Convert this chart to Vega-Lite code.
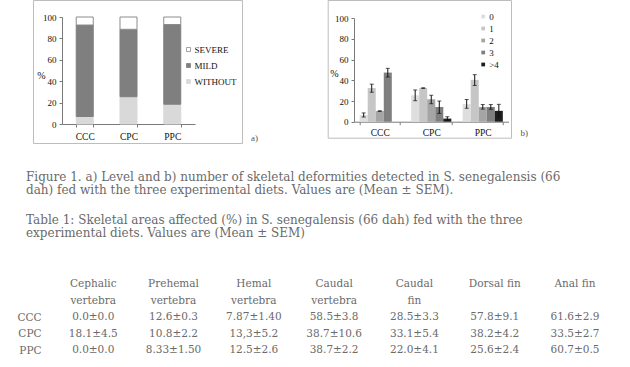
{
  "$schema": "https://vega.github.io/schema/vega-lite/v6.json",
  "background": "white",
  "padding": {"left": 16, "top": -1, "right": 5, "bottom": 2},
  "bounds": "flush",
  "spacing": 275.75,
  "resolve": {"scale": {"x": "independent", "y": "independent", "fill": "independent", "stroke": "independent"}, "legend": {"fill": "independent", "stroke": "independent"}},
  "config": {
    "view": {"stroke": "#bdbdbd", "strokeWidth": 1},
    "font": "Liberation Serif",
    "axis": {"grid": false, "domainColor": "#7a7a7a", "tickColor": "#7a7a7a", "labelColor": "#111111", "labelFont": "Liberation Serif", "titleFont": "Liberation Serif", "labelFontSize": 9, "titleFontSize": 10, "titleFontWeight": "normal", "titleColor": "#111111", "tickSize": 3, "labelOverlap": false},
    "legend": {"labelFont": "Liberation Serif", "labelColor": "#111111", "padding": 0}
  },
  "vconcat": [
    {
      "bounds": "flush",
      "spacing": 85.7,
      "resolve": {"scale": {"x": "independent", "y": "independent", "fill": "independent", "stroke": "independent"}, "legend": {"fill": "independent", "stroke": "independent"}},
      "hconcat": [
        {
          "width": 209,
          "height": 143,
          "title": {"text": "a)", "orient": "right", "anchor": "end", "angle": 0, "align": "left", "baseline": "bottom", "offset": 2, "fontSize": 9, "font": "Liberation Serif", "fontWeight": "normal", "color": "#555555"},
          "data": {"values": [
            {"diet": "CCC", "severity": "WITHOUT", "ord": 1, "value": 7},
            {"diet": "CCC", "severity": "MILD", "ord": 2, "value": 85.5},
            {"diet": "CCC", "severity": "SEVERE", "ord": 3, "value": 7.5},
            {"diet": "CPC", "severity": "WITHOUT", "ord": 1, "value": 25.5},
            {"diet": "CPC", "severity": "MILD", "ord": 2, "value": 63},
            {"diet": "CPC", "severity": "SEVERE", "ord": 3, "value": 11.5},
            {"diet": "PPC", "severity": "WITHOUT", "ord": 1, "value": 18.5},
            {"diet": "PPC", "severity": "MILD", "ord": 2, "value": 74.5},
            {"diet": "PPC", "severity": "SEVERE", "ord": 3, "value": 7}
          ]},
          "mark": {"type": "bar", "strokeWidth": 1},
          "encoding": {
            "x": {"field": "diet", "type": "nominal", "sort": ["CCC", "CPC", "PPC"],
                  "scale": {"range": [29, 162], "paddingInner": 0.611, "paddingOuter": 0.325},
                  "axis": {"title": null, "labelAngle": 0, "offset": -19, "tickBand": "extent", "labelPadding": 4, "labelFontSize": 9.5}},
            "y": {"field": "value", "type": "quantitative", "stack": "zero", "title": "%",
                  "scale": {"domain": [0, 100], "range": [124, 17], "nice": false},
                  "axis": {"titleAngle": 0, "titleX": -21, "titleY": 75, "titleAlign": "center", "titleBaseline": "middle", "values": [0, 20, 40, 60, 80, 100], "offset": -29, "labelPadding": 3}},
            "order": {"field": "ord", "type": "quantitative"},
            "fill": {"field": "severity", "type": "nominal",
                     "scale": {"domain": ["SEVERE", "MILD", "WITHOUT"], "range": ["#ffffff", "#7f7f7f", "#d9d9d9"]},
                     "legend": {"title": null, "orient": "none", "legendX": 151, "legendY": 45, "symbolType": "square", "symbolSize": 16, "labelFontSize": 9, "rowPadding": 6, "labelOffset": 1.5, "symbolStrokeColor": "#8c8c8c", "symbolStrokeWidth": 0.8}},
            "stroke": {"field": "severity", "type": "nominal",
                       "scale": {"domain": ["SEVERE", "MILD", "WITHOUT"], "range": ["#8c8c8c", "#7f7f7f", "#d9d9d9"]}, "legend": null}
          }
        },
        {
          "width": 183.3,
          "height": 137.7,
          "title": {"text": "b)", "orient": "right", "anchor": "end", "angle": 0, "align": "left", "baseline": "bottom", "offset": 2, "fontSize": 9, "font": "Liberation Serif", "fontWeight": "normal", "color": "#555555"},
          "data": {"values": [
            {"diet": "CCC", "count": "0", "value": 6.5, "lo": 4.5, "hi": 8.5},
            {"diet": "CCC", "count": "1", "value": 32.5, "lo": 28.5, "hi": 36.3},
            {"diet": "CCC", "count": "2", "value": 10.3, "lo": 10, "hi": 10.6},
            {"diet": "CCC", "count": "3", "value": 47.5, "lo": 43.2, "hi": 51.6},
            {"diet": "CCC", "count": ">4", "value": 0, "lo": null, "hi": null},
            {"diet": "CPC", "count": "0", "value": 25.5, "lo": 20.3, "hi": 30.7},
            {"diet": "CPC", "count": "1", "value": 32.5, "lo": 32.2, "hi": 32.8},
            {"diet": "CPC", "count": "2", "value": 21.7, "lo": 17.4, "hi": 25.6},
            {"diet": "CPC", "count": "3", "value": 14.2, "lo": 8, "hi": 20},
            {"diet": "CPC", "count": ">4", "value": 3, "lo": 1.2, "hi": 4.8},
            {"diet": "PPC", "count": "0", "value": 17, "lo": 13, "hi": 21.5},
            {"diet": "PPC", "count": "1", "value": 40.5, "lo": 35, "hi": 45.5},
            {"diet": "PPC", "count": "2", "value": 14.2, "lo": 12.2, "hi": 16.6},
            {"diet": "PPC", "count": "3", "value": 14.2, "lo": 12, "hi": 16.6},
            {"diet": "PPC", "count": ">4", "value": 10.5, "lo": 4.5, "hi": 16.8}
          ]},
          "encoding": {
            "x": {"field": "diet", "type": "nominal", "sort": ["CCC", "CPC", "PPC"],
                  "scale": {"range": [26.3, 180.8], "paddingInner": 0.22, "paddingOuter": 0.11},
                  "axis": {"title": null, "labelAngle": 0, "offset": -16, "tickBand": "extent", "labelPadding": 3, "labelFontSize": 9.5}},
            "xOffset": {"field": "count", "type": "nominal", "sort": ["0", "1", "2", "3", ">4"], "scale": {"paddingInner": 0, "paddingOuter": 0}}
          },
          "layer": [
            {
              "mark": {"type": "bar"},
              "encoding": {
                "y": {"field": "value", "type": "quantitative", "title": "%",
                      "scale": {"domain": [0, 100], "range": [121.7, 18.3], "nice": false},
                      "axis": {"titleAngle": 0, "titleX": -20, "titleY": 73.7, "titleAlign": "center", "titleBaseline": "middle", "values": [0, 20, 40, 60, 80, 100], "offset": -26.3, "labelPadding": 3, "labelOverlap": false}},
                "fill": {"field": "count", "type": "nominal",
                         "scale": {"domain": ["0", "1", "2", "3", ">4"], "range": ["#dedede", "#c6c6c6", "#a5a5a5", "#7f7f7f", "#1e1e1e"]},
                         "legend": {"title": null, "orient": "none", "legendX": 151, "legendY": 12, "symbolType": "square", "symbolSize": 14, "labelFontSize": 9, "rowPadding": 2, "labelOffset": 1.5}}
              }
            },
            {
              "mark": {"type": "rule", "color": "#111111", "strokeWidth": 1},
              "encoding": {"y": {"field": "lo", "type": "quantitative", "title": "%",
                      "axis": {"titleAngle": 0, "titleX": -20, "titleY": 73.7, "titleAlign": "center", "titleBaseline": "middle", "values": [0, 20, 40, 60, 80, 100], "offset": -26.3, "labelPadding": 3, "labelOverlap": false}}, "y2": {"field": "hi"}}
            },
            {
              "mark": {"type": "tick", "color": "#111111", "size": 4, "thickness": 1},
              "encoding": {"y": {"field": "lo", "type": "quantitative", "title": "%",
                      "axis": {"titleAngle": 0, "titleX": -20, "titleY": 73.7, "titleAlign": "center", "titleBaseline": "middle", "values": [0, 20, 40, 60, 80, 100], "offset": -26.3, "labelPadding": 3, "labelOverlap": false}}}
            },
            {
              "mark": {"type": "tick", "color": "#111111", "size": 4, "thickness": 1},
              "encoding": {"y": {"field": "hi", "type": "quantitative", "title": "%",
                      "axis": {"titleAngle": 0, "titleX": -20, "titleY": 73.7, "titleAlign": "center", "titleBaseline": "middle", "values": [0, 20, 40, 60, 80, 100], "offset": -26.3, "labelPadding": 3, "labelOverlap": false}}}
            }
          ]
        }
      ]
    },
    {
      "width": 560,
      "height": 82.5,
      "view": {"stroke": null},
      "title": {
        "text": [
          "Figure 1. a) Level and b) number of skeletal deformities detected in S. senegalensis (66",
          "dah) fed with the three experimental diets. Values are (Mean ± SEM)."
        ],
        "subtitle": [
          "Table 1: Skeletal areas affected (%) in S. senegalensis (66 dah) fed with the three",
          "experimental diets. Values are (Mean ± SEM)"
        ],
        "anchor": "start", "frame": "group", "orient": "top", "baseline": "bottom", "offset": 23.5, "dx": -7,
        "fontSize": 12, "lineHeight": 13, "color": "#6a6a6a", "font": "DejaVu Serif", "fontWeight": "normal",
        "subtitleFont": "DejaVu Serif", "subtitleFontSize": 12, "subtitleLineHeight": 13, "subtitleColor": "#6a6a6a", "subtitleFontWeight": "normal", "subtitlePadding": 18
      },
      "data": {"values": [
        {"row": "h1", "col": "Cephalic vertebra", "text": "Cephalic"},
        {"row": "h1", "col": "Prehemal vertebra", "text": "Prehemal"},
        {"row": "h1", "col": "Hemal vertebra", "text": "Hemal"},
        {"row": "h1", "col": "Caudal vertebra", "text": "Caudal"},
        {"row": "h1", "col": "Caudal fin", "text": "Caudal"},
        {"row": "h1", "col": "Dorsal fin", "text": "Dorsal fin"},
        {"row": "h1", "col": "Anal fin", "text": "Anal fin"},
        {"row": "h2", "col": "Cephalic vertebra", "text": "vertebra"},
        {"row": "h2", "col": "Prehemal vertebra", "text": "vertebra"},
        {"row": "h2", "col": "Hemal vertebra", "text": "vertebra"},
        {"row": "h2", "col": "Caudal vertebra", "text": "vertebra"},
        {"row": "h2", "col": "Caudal fin", "text": "fin"},
        {"row": "CCC", "col": "Cephalic vertebra", "text": "0.0±0.0"},
        {"row": "CCC", "col": "Prehemal vertebra", "text": "12.6±0.3"},
        {"row": "CCC", "col": "Hemal vertebra", "text": "7.87±1.40"},
        {"row": "CCC", "col": "Caudal vertebra", "text": "58.5±3.8"},
        {"row": "CCC", "col": "Caudal fin", "text": "28.5±3.3"},
        {"row": "CCC", "col": "Dorsal fin", "text": "57.8±9.1"},
        {"row": "CCC", "col": "Anal fin", "text": "61.6±2.9"},
        {"row": "CPC", "col": "Cephalic vertebra", "text": "18.1±4.5"},
        {"row": "CPC", "col": "Prehemal vertebra", "text": "10.8±2.2"},
        {"row": "CPC", "col": "Hemal vertebra", "text": "13,3±5.2"},
        {"row": "CPC", "col": "Caudal vertebra", "text": "38.7±10.6"},
        {"row": "CPC", "col": "Caudal fin", "text": "33.1±5.4"},
        {"row": "CPC", "col": "Dorsal fin", "text": "38.2±4.2"},
        {"row": "CPC", "col": "Anal fin", "text": "33.5±2.7"},
        {"row": "PPC", "col": "Cephalic vertebra", "text": "0.0±0.0"},
        {"row": "PPC", "col": "Prehemal vertebra", "text": "8.33±1.50"},
        {"row": "PPC", "col": "Hemal vertebra", "text": "12.5±2.6"},
        {"row": "PPC", "col": "Caudal vertebra", "text": "38.7±2.2"},
        {"row": "PPC", "col": "Caudal fin", "text": "22.0±4.1"},
        {"row": "PPC", "col": "Dorsal fin", "text": "25.6±2.4"},
        {"row": "PPC", "col": "Anal fin", "text": "60.7±0.5"}
      ]},
      "mark": {"type": "text", "font": "DejaVu Serif", "fontSize": 10.5, "color": "#6a6a6a", "baseline": "middle"},
      "encoding": {
        "x": {"field": "col", "type": "nominal",
              "sort": ["Cephalic vertebra", "Prehemal vertebra", "Hemal vertebra", "Caudal vertebra", "Caudal fin", "Dorsal fin", "Anal fin"],
              "scale": {"type": "point", "padding": 0.487, "align": 0.77}, "axis": null},
        "y": {"field": "row", "type": "nominal", "sort": ["h1", "h2", "CCC", "CPC", "PPC"],
              "scale": {"type": "point", "padding": 0.5},
              "axis": {"title": null, "domain": false, "ticks": false, "labelPadding": -8, "labelExpr": "substring(datum.value, 0, 1) == 'h' ? '' : datum.value", "labelFont": "DejaVu Serif", "labelFontSize": 10.5, "labelColor": "#6a6a6a"}},
        "text": {"field": "text"}
      }
    }
  ]
}
